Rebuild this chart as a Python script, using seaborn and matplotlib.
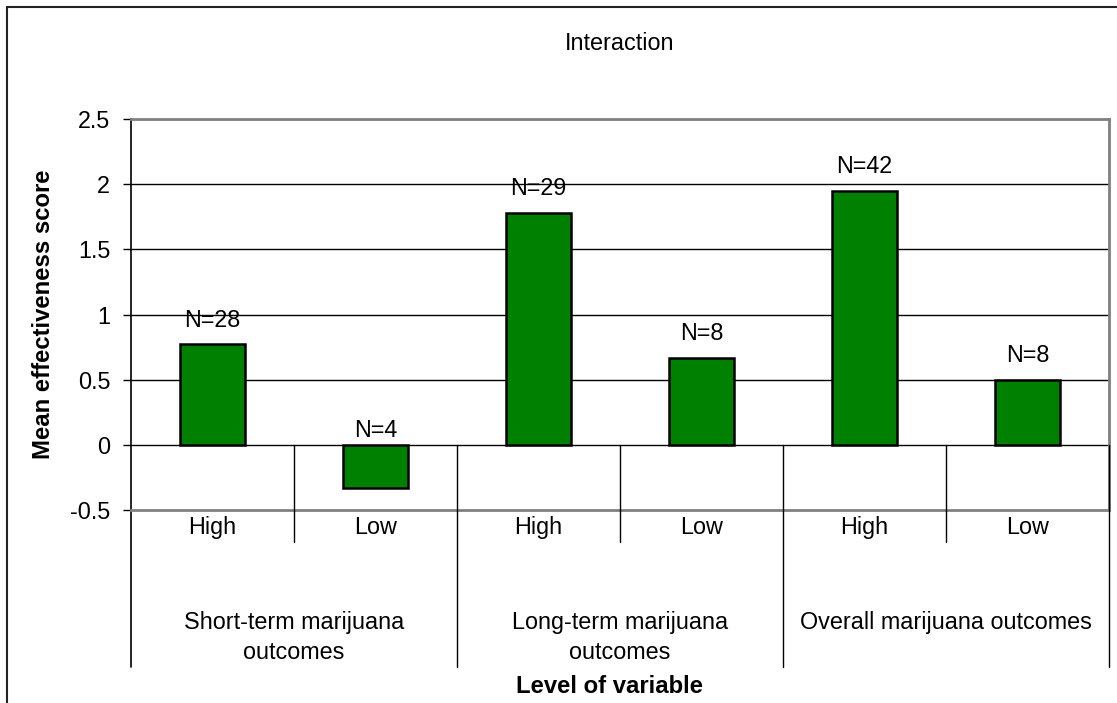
import pandas as pd
import seaborn as sns
import matplotlib.pyplot as plt
from matplotlib.lines import Line2D

# valores
groups = ["Short-term marijuana\noutcomes", "Long-term marijuana\noutcomes", "Overall marijuana outcomes"]
levels = ["High", "Low", "High", "Low", "High", "Low"]
scores = [0.77, -0.33, 1.78, 0.67, 1.95, 0.50]
n_labels = ["N=28", "N=4", "N=29", "N=8", "N=42", "N=8"]
yticks = [-0.5, 0, 0.5, 1, 1.5, 2, 2.5]
ytick_labels = ["-0.5", "0", "0.5", "1", "1.5", "2", "2.5"]

sns.set_style("white")
plt.rcParams["font.family"] = ["Liberation Sans", "DejaVu Sans"]
plt.rcParams["text.color"] = "black"
plt.rcParams["axes.labelcolor"] = "black"
plt.rcParams["xtick.color"] = "black"
plt.rcParams["ytick.color"] = "black"

FS = 16.8
FS_BOLD = 17.2

df = pd.DataFrame({
    "key": [f"{i}_{lv}" for i, lv in enumerate(levels)],
    "level": levels,
    "score": scores,
})

fig = plt.figure(figsize=(11.17, 7.03), dpi=100)
ax = fig.add_axes([131 / 1117, 1 - 510 / 703, (1109 - 131) / 1117, (510 - 119) / 703])

# grade horizontal atras das barras
for y in yticks[1:-1]:
    ax.axhline(y, color="black", lw=1.0, zorder=0)

sns.barplot(data=df, x="key", y="score", color="#008000", edgecolor="black",
            linewidth=1.8, width=0.4, saturation=1, ax=ax, zorder=2)

ax.set_ylim(-0.5, 2.5)
ax.set_xlim(-0.5, len(levels) - 0.5)
ax.set_yticks(yticks)
ax.set_yticklabels(ytick_labels, fontsize=FS)
ax.set_xticks(range(len(levels)))
ax.set_xticklabels(levels, fontsize=FS)
ax.tick_params(axis="x", length=0, pad=4)
ax.tick_params(axis="y", length=6, width=1, color="black", pad=9, left=True, direction="out")

for side in ["top", "bottom", "right"]:
    ax.spines[side].set_color("#808080")
    ax.spines[side].set_linewidth(2)
ax.spines["left"].set_color("black")
ax.spines["left"].set_linewidth(1.2)

# rotulos N acima das barras
for i, (v, lab) in enumerate(zip(scores, n_labels)):
    off = 12.5 if v > 0 else 5.5
    ax.annotate(lab, (i, max(v, 0)), xytext=(0, off), textcoords="offset points",
                ha="center", va="baseline", fontsize=FS)

# separadores do eixo de categorias
zero_frac = 0.5 / 3.0
for i in range(1, len(levels) + 1):
    x = i - 0.5
    bottom = -0.4015 if i % 2 == 0 else -0.0818
    ax.plot([x, x], [zero_frac, bottom], color="black", lw=1.0,
            transform=ax.get_xaxis_transform(), clip_on=False, zorder=3)
ax.plot([-0.5, -0.5], [0, -0.4015], color="black", lw=1.2,
        transform=ax.get_xaxis_transform(), clip_on=False)

for j, g in enumerate(groups):
    ax.text(2 * j + 0.5, (510 - 611) / 391, g, transform=ax.get_xaxis_transform(),
            ha="center", va="top", fontsize=FS, linespacing=1.37,
            multialignment="center")

ax.set_xlabel("")
ax.set_ylabel("Mean effectiveness score", fontsize=FS_BOLD, fontweight="bold")
ax.yaxis.set_label_coords(-0.078, 0.5)
fig.text(609 / 1117, 1 - 693 / 703, "Level of variable", ha="center", va="baseline",
         fontsize=FS_BOLD, fontweight="bold")
fig.text(620 / 1117, 1 - 43 / 703, "Interaction", ha="center", va="center", fontsize=FS)

# moldura externa
fig.add_artist(Line2D([7 / 1117, 7 / 1117], [0, 1 - 7 / 703], color="#222222", lw=1.5))
fig.add_artist(Line2D([7 / 1117, 1], [1 - 7 / 703, 1 - 7 / 703], color="#222222", lw=1.5))

plt.savefig("out.png", dpi=100)
